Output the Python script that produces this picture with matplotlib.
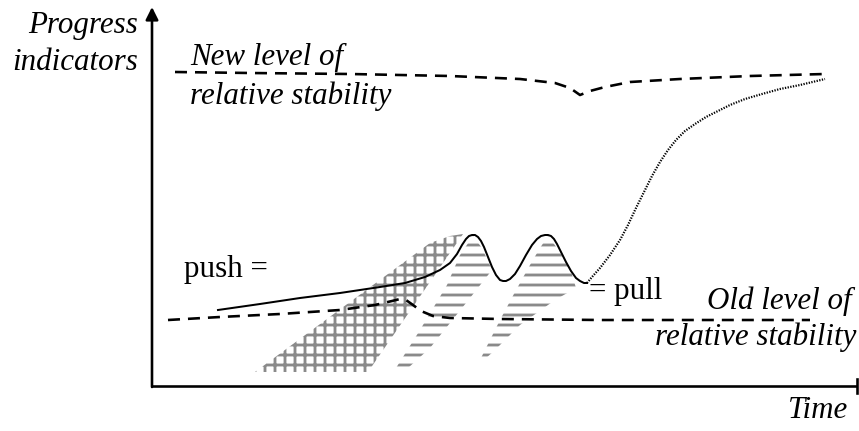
import matplotlib
matplotlib.use("Agg")
import matplotlib.pyplot as plt
from matplotlib.patches import Polygon

DPI = 120
W, H = 859, 431
plt.rcParams['lines.scale_dashes'] = False
plt.rcParams['hatch.linewidth'] = 1.7

def pt(px):
    return px * 72.0 / DPI

# ---- data (diagram curves, in canvas units) ----
push_x = [218, 260, 300, 340, 380, 405, 425, 440, 450, 457, 462, 466, 469, 472, 475, 478, 481, 484,
          488, 492, 496, 500, 503, 506, 510, 515, 520, 526, 532, 537, 541, 545, 548, 551, 554, 557,
          561, 566, 571, 576, 580, 584, 587]
push_y = [310, 304, 298, 293, 287, 283, 277, 270, 263, 254, 245, 239, 236, 235, 235, 237, 241, 247,
          257, 267, 275, 280, 281, 281, 279, 274, 266, 255, 245, 239, 236, 235, 235, 236, 239, 244,
          252, 262, 271, 278, 281, 283, 283]

growth_x = [587, 592, 600, 610, 620, 628, 636, 644, 652, 660, 668, 676, 685, 695, 706, 718, 730,
            745, 762, 780, 800, 825]
growth_y = [283, 277, 268, 255, 240, 225, 208, 192, 176, 162, 150, 140, 131, 124, 117, 111, 105,
            99, 94, 89, 85, 79]

new_level_x = [175, 250, 350, 450, 520, 555, 570, 580, 590, 605, 630, 680, 750, 825]
new_level_y = [72, 73, 74, 76, 79, 83, 88, 95, 91, 87, 82, 79, 76, 74]

old_level_x = [168, 220, 280, 340, 375, 392, 400, 406, 413, 421, 433, 450, 500, 600, 810]
old_level_y = [320, 317, 314, 310, 305, 301, 299, 300, 305, 311, 316, 318, 319, 320, 320]

cross_x = [255, 368, 463, 450, 430]
cross_y = [372, 372, 234, 236, 243]

stripe1_x = [473, 482, 492, 470, 430, 408, 396, 420, 447, 460]
stripe1_y = [236, 248, 270, 298, 348, 368, 368, 330, 285, 255]

stripe2_x = [548, 557, 570, 576, 555, 520, 495, 484, 480, 500, 515, 530, 540]
stripe2_y = [236, 248, 268, 288, 300, 325, 350, 360, 360, 320, 292, 265, 248]

fig = plt.figure(figsize=(W / DPI, H / DPI), dpi=DPI)
ax = fig.add_axes([0, 0, 1, 1])
ax.set_xlim(0, W)
ax.set_ylim(H, 0)
ax.axis('off')

grey = '#8a8a8a'
ax.add_patch(Polygon(list(zip(cross_x, cross_y)), closed=True, facecolor='white',
                     edgecolor=grey, hatch='++', linewidth=0, zorder=1))
ax.add_patch(Polygon(list(zip(stripe1_x, stripe1_y)), closed=True, facecolor='white',
                     edgecolor=grey, hatch='--', linewidth=0, zorder=1))
ax.add_patch(Polygon(list(zip(stripe2_x, stripe2_y)), closed=True, facecolor='white',
                     edgecolor=grey, hatch='--', linewidth=0, zorder=1))

dash = (0, (pt(12), pt(8)))
ax.plot(new_level_x, new_level_y, color='black', lw=pt(2.6), linestyle=dash, zorder=3)
ax.plot(old_level_x, old_level_y, color='black', lw=pt(2.6), linestyle=dash, zorder=3)
ax.plot(push_x, push_y, color='black', lw=pt(2.0), zorder=4, solid_joinstyle='round')
ax.plot(growth_x, growth_y, color='black', lw=pt(2.2), linestyle=(0, (pt(1.3), pt(1.4))), zorder=4)

# axes
ax.annotate('', xy=(152, 7), xytext=(152, 387),
            arrowprops=dict(arrowstyle='-|>', lw=pt(2.6), color='black',
                            mutation_scale=pt(26), shrinkA=0, shrinkB=0), zorder=5)
ax.plot([152, 857], [386, 386], color='black', lw=pt(2.6), solid_capstyle='butt', zorder=5)
ax.plot([857, 857], [379, 393], color='black', lw=pt(2.6), zorder=5)

serif = ['Liberation Serif', 'DejaVu Serif']
fs = pt(31)
kw = dict(family=serif, fontsize=fs, color='black')
ax.text(138, 25, 'Progress', ha='right', va='center', style='italic', **kw)
ax.text(138, 62, 'indicators', ha='right', va='center', style='italic', **kw)
ax.text(190, 57, 'New level of', ha='left', va='center', style='italic', **kw)
ax.text(190, 96, 'relative stability', ha='left', va='center', style='italic', **kw)
ax.text(184, 270, 'push =', ha='left', va='center', **kw)
ax.text(589, 292, '= pull', ha='left', va='center', **kw)
ax.text(852, 301, 'Old level of', ha='right', va='center', style='italic', **kw)
ax.text(856, 337, 'relative stability', ha='right', va='center', style='italic', **kw)
ax.text(848, 411, 'Time', ha='right', va='center', style='italic', **kw)

fig.savefig('out.png', dpi=DPI)
